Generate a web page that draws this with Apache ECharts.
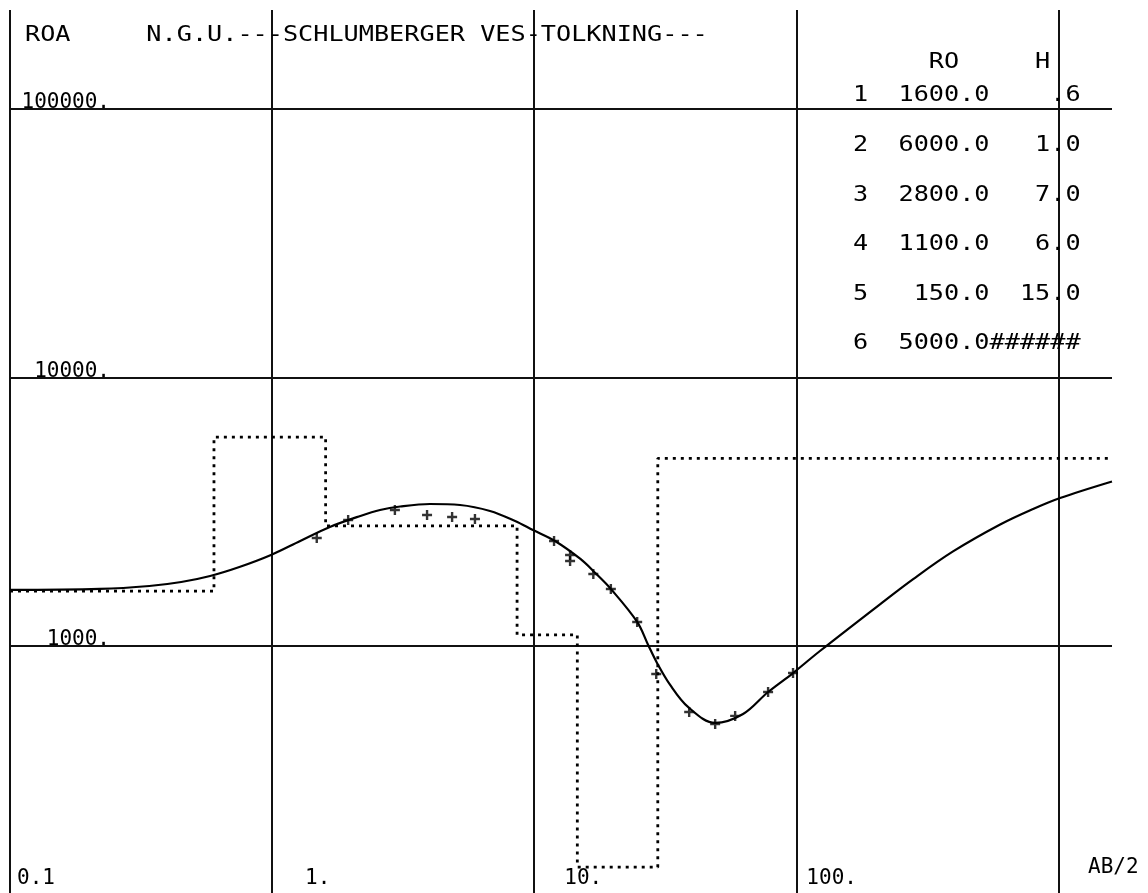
<!DOCTYPE html>
<html>
<head>
<meta charset="utf-8">
<script src="https://cdn.jsdelivr.net/npm/echarts@6/dist/echarts.min.js"></script>
<style>
html,body{margin:0;padding:0;background:#fff;}
#c{width:1148px;height:893px;}
</style>
</head>
<body>
<div id="c"></div>
<script>
// ---------- data ----------
const titleText = 'N.G.U.---SCHLUMBERGER VES-TOLKNING---';
const yName = 'ROA';
const xName = 'AB/2';
const tableHeadRho = 'RO';
const tableHeadH = 'H';

const xTickValues = [0.1, 1, 10, 100];
const xTickLabels = ['0.1', '1.', '10.', '100.'];
const yTickValues = [1000, 10000, 100000];
const yTickLabels = ['1000.', '10000.', '100000.'];

// layer model (resistivity, thickness)
const layerRho = [1600, 6000, 2800, 1100, 150, 5000];
const layerH = [0.6, 1.0, 7.0, 6.0, 15.0];

// computed response curve
const curveAB = [0.1, 0.22, 0.34, 0.45, 0.58, 0.75, 0.99, 1.28, 1.66, 2.17, 2.58, 3.08, 4.0, 5.21, 6.78, 8.45, 9.89, 12.0, 15.0, 17.1, 19.6, 24.7, 27.2, 29.4, 33.0, 38.6, 49.0, 62.6, 78.0, 97.1, 123, 209, 279, 396, 599, 800, 1014, 1600];
const curveRho = [1617, 1631, 1673, 1731, 1823, 1969, 2183, 2461, 2775, 3050, 3210, 3308, 3380, 3351, 3183, 2921, 2704, 2461, 2109, 1870, 1631, 1229, 1009, 865, 716, 593, 517, 558, 674, 793, 958, 1433, 1775, 2250, 2835, 3238, 3558, 4100];

// measured apparent resistivities
const measAB = [1.48, 1.95, 2.94, 3.90, 4.86, 5.94, 11.9, 13.7, 13.7, 16.8, 19.6, 24.7, 29.2, 39.0, 49.0, 58.4, 78.0, 97.1];
const measRho = [2524, 2946, 3210, 3074, 3022, 2972, 2461, 2183, 2073, 1854, 1631, 1229, 787, 568, 512, 549, 674, 793];

// ---------- styles ----------
const X_MIN = 0.1, X_MAX = 1600, Y_MIN = 100, Y_MAX = 233700;
const MONO = "'DejaVu Sans Mono', 'Liberation Mono', monospace";
const xLabelShift = [7, 33, 30, 10];
const CELL_SCALE = 1.2;

// ---------- build ----------
const stepData = [[X_MIN, layerRho[0]]];
let depth = 0;
for (let i = 0; i < layerH.length; i++) {
  depth = Math.round((depth + layerH[i]) * 1000) / 1000;
  stepData.push([depth, layerRho[i + 1]]);
}
stepData.push([X_MAX, layerRho[layerRho.length - 1]]);

const curveData = curveAB.map((x, i) => [x, curveRho[i]]);
const measData = measAB.map((x, i) => [x, measRho[i]]);

function fmtH(h) {
  if (h === undefined) return '######';
  let s = h.toFixed(1);
  if (h < 1) s = s.replace(/^0/, '');
  return s.padStart(6);
}
const tableRows = layerRho.map((r, i) =>
  String(i + 1) + '  ' + r.toFixed(1).padStart(6) + fmtH(layerH[i]));
const tableHeader = ' '.repeat(5) + tableHeadRho + ' '.repeat(5) + tableHeadH;

function findIdx(arr, v) {
  return arr.findIndex(t => Math.abs(Math.log10(t) - Math.log10(v)) < 1e-6);
}

const rich = {};
xLabelShift.forEach((s, i) => {
  rich['s' + i] = {padding: [0, 0, 0, s], fontFamily: MONO, fontSize: 21, lineHeight: 12, color: '#000'};
});

const graphics = [];
graphics.push({
  type: 'text', x: 25, y: 36, scaleX: CELL_SCALE, z: 10,
  style: {text: yName.padEnd(8) + titleText, font: '21px ' + MONO, fill: '#000', align: 'left', verticalAlign: 'middle'}
});
graphics.push({
  type: 'text', x: 853, y: 63, scaleX: CELL_SCALE, z: 10,
  style: {text: tableHeader, font: '21px ' + MONO, fill: '#000', align: 'left', verticalAlign: 'middle'}
});
tableRows.forEach((row, i) => {
  graphics.push({
    type: 'text', x: 853, y: 96 + i * 49.6, scaleX: CELL_SCALE, z: 10,
    style: {text: row, font: '21px ' + MONO, fill: '#000', align: 'left', verticalAlign: 'middle'}
  });
});
graphics.push({
  type: 'text', x: 1088, y: 868, z: 10,
  style: {text: xName, font: '21px ' + MONO, fill: '#000', align: 'left', verticalAlign: 'middle'}
});

const gridLine = {show: true, showMaxLine: false, lineStyle: {color: '#111', width: 2, type: 'solid'}};

const chart = echarts.init(document.getElementById('c'), null, {renderer: 'canvas'});
chart.setOption({
  animation: false,
  backgroundColor: '#fff',
  grid: {left: 10, right: 36, top: 10, bottom: -21.5, containLabel: false, outerBoundsMode: 'none'},
  xAxis: {
    type: 'log', logBase: 10, min: X_MIN, max: X_MAX,
    axisLine: {show: false}, axisTick: {show: false},
    splitLine: gridLine,
    axisLabel: {
      inside: true, margin: 36, align: 'left', verticalAlign: 'middle',
      showMinLabel: true, showMaxLabel: false,
      fontFamily: MONO, fontSize: 21, lineHeight: 12, color: '#000',
      formatter: (v) => {
        const i = findIdx(xTickValues, v);
        return i < 0 ? '' : '{s' + i + '|' + xTickLabels[i] + '}';
      },
      rich: rich
    }
  },
  yAxis: {
    type: 'log', logBase: 10, min: Y_MIN, max: Y_MAX,
    axisLine: {show: false}, axisTick: {show: false},
    splitLine: gridLine,
    axisLabel: {
      margin: -100, align: 'right', verticalAlign: 'bottom',
      showMinLabel: false, showMaxLabel: false,
      fontFamily: MONO, fontSize: 21, lineHeight: 12, color: '#000',
      formatter: (v) => {
        const i = findIdx(yTickValues, v);
        return i < 0 ? '' : yTickLabels[i];
      }
    }
  },
  series: [
    {
      type: 'line', data: stepData, step: 'end', showSymbol: false, symbol: 'none',
      lineStyle: {color: '#000', width: 2.8, type: [3, 5]}, z: 3, silent: true
    },
    {
      type: 'line', data: curveData, smooth: 0.35, showSymbol: false, symbol: 'none',
      lineStyle: {color: '#000', width: 2.2}, z: 4, silent: true
    },
    {
      type: 'scatter', data: measData,
      symbol: 'path://M-1.2,-5 L1.2,-5 L1.2,-1.2 L5,-1.2 L5,1.2 L1.2,1.2 L1.2,5 L-1.2,5 L-1.2,1.2 L-5,1.2 L-5,-1.2 L-1.2,-1.2 Z',
      symbolSize: 10, itemStyle: {color: '#000'}, z: 5, silent: true
    }
  ],
  graphic: graphics
});
</script>
</body>
</html>
